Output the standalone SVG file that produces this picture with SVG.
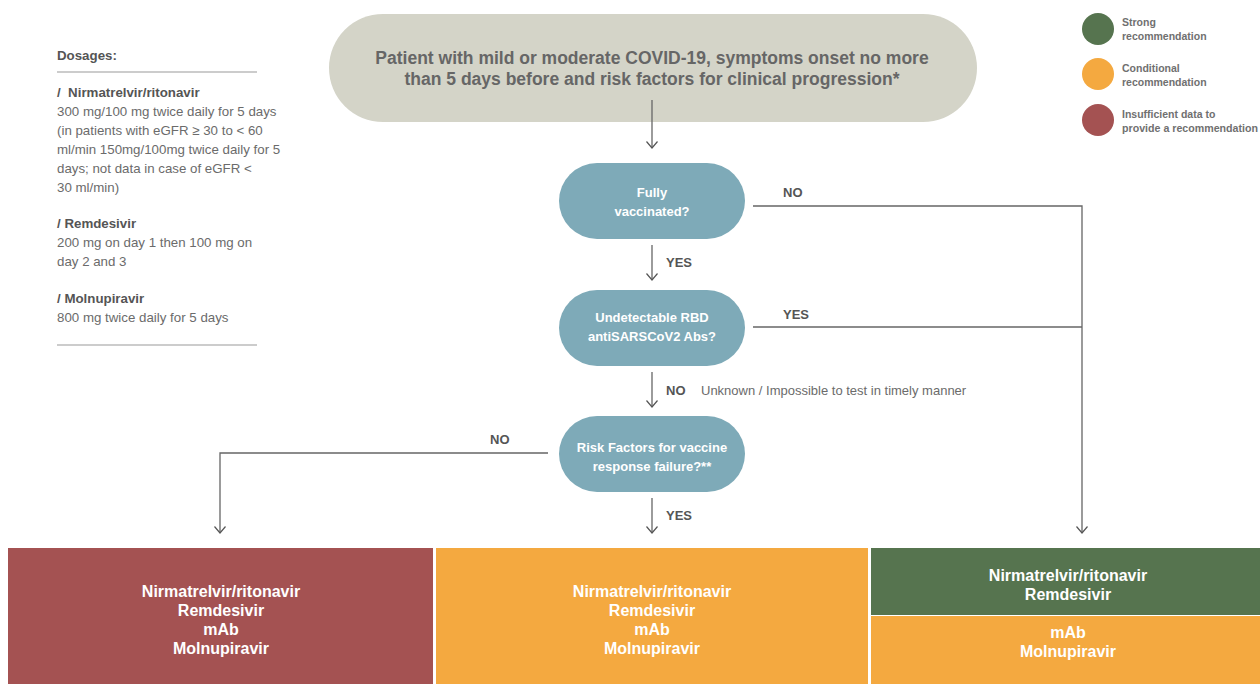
<svg xmlns="http://www.w3.org/2000/svg" width="1260" height="684" viewBox="0 0 1260 684">
<defs>
<marker id="arr" viewBox="0 0 10 12" refX="9.5" refY="6" markerWidth="10" markerHeight="12" markerUnits="userSpaceOnUse" orient="auto">
<path d="M3,0.5 L9.5,6 L3,11.5" fill="none" stroke="#555" stroke-width="1.2"/>
</marker>
<style>
text{font-family:"Liberation Sans",Arial,sans-serif}
.dos{font-size:13.3px;fill:#6b6b6b}
.dosb{font-size:13.3px;fill:#555;font-weight:bold}
.leg{font-size:10.5px;fill:#707070;font-weight:bold}
.q{font-size:13px;fill:#fff;font-weight:bold;text-anchor:middle}
.lbl{font-size:13px;fill:#555;font-weight:bold}
.res{font-size:16px;fill:#fff;font-weight:bold;text-anchor:middle}
.conn{fill:none;stroke:#666;stroke-width:1.3}
</style>
</defs>
<rect width="1260" height="684" fill="#fff"/>

<g id="dosages">
<text class="dosb" x="57" y="60">Dosages:</text>
<line x1="57" y1="72" x2="257" y2="72" stroke="#bbb" stroke-width="1.3"/>
<text class="dosb" x="57" y="97">/ &#160;Nirmatrelvir/ritonavir</text>
<text class="dos" x="57" y="116">300 mg/100 mg twice daily for 5 days</text>
<text class="dos" x="57" y="135">(in patients with eGFR ≥ 30 to &lt; 60</text>
<text class="dos" x="57" y="154">ml/min 150mg/100mg twice daily for 5</text>
<text class="dos" x="57" y="173">days; not data in case of eGFR &lt;</text>
<text class="dos" x="57" y="192">30 ml/min)</text>
<text class="dosb" x="57" y="228">/ Remdesivir</text>
<text class="dos" x="57" y="247">200 mg on day 1 then 100 mg on</text>
<text class="dos" x="57" y="266">day 2 and 3</text>
<text class="dosb" x="57" y="303">/ Molnupiravir</text>
<text class="dos" x="57" y="322">800 mg twice daily for 5 days</text>
<line x1="57" y1="345" x2="257" y2="345" stroke="#bbb" stroke-width="1.3"/>
</g>

<g id="legend">
<circle cx="1098" cy="29" r="16" fill="#56744f"/>
<text class="leg" x="1122" y="26">Strong</text>
<text class="leg" x="1122" y="40">recommendation</text>
<circle cx="1098" cy="74" r="16" fill="#f4a940"/>
<text class="leg" x="1122" y="72">Conditional</text>
<text class="leg" x="1122" y="86">recommendation</text>
<circle cx="1098" cy="120" r="16" fill="#a45252"/>
<text class="leg" x="1122" y="118">Insufficient data to</text>
<text class="leg" x="1122" y="132" textLength="136" lengthAdjust="spacingAndGlyphs">provide a recommendation</text>
</g>

<g id="start">
<rect x="329" y="14" width="648" height="108" rx="54" fill="#d4d4c8"/>
<text x="652" y="64" text-anchor="middle" font-size="17.5" font-weight="bold" fill="#666">Patient with mild or moderate COVID-19, symptoms onset no more</text>
<text x="652" y="85" text-anchor="middle" font-size="17.5" font-weight="bold" fill="#666">than 5 days before and risk factors for clinical progression*</text>
</g>

<g id="q1">
<rect x="559" y="163" width="186" height="76" rx="38" fill="#7eaab8"/>
<text class="q" x="652" y="197">Fully</text>
<text class="q" x="652" y="216">vaccinated?</text>
</g>
<g id="q2">
<rect x="559" y="290" width="186" height="76" rx="38" fill="#7eaab8"/>
<text class="q" x="652" y="322">Undetectable RBD</text>
<text class="q" x="652" y="341">antiSARSCoV2 Abs?</text>
</g>
<g id="q3">
<rect x="559" y="416" width="186" height="76" rx="38" fill="#7eaab8"/>
<text class="q" x="652" y="452">Risk Factors for vaccine</text>
<text class="q" x="652" y="471">response failure?**</text>
</g>

<g id="connectors">
<path class="conn" d="M652,100 V148" marker-end="url(#arr)"/>
<path class="conn" d="M652,245 V280" marker-end="url(#arr)"/>
<path class="conn" d="M652,372 V407" marker-end="url(#arr)"/>
<path class="conn" d="M652,498 V533" marker-end="url(#arr)"/>
<path class="conn" d="M753,206 H1082 V533" marker-end="url(#arr)"/>
<path class="conn" d="M753,327 H1082"/>
<path class="conn" d="M548,453 H220 V533" marker-end="url(#arr)"/>
<text class="lbl" x="666" y="267">YES</text>
<text class="lbl" x="666" y="395">NO</text>
<text x="701" y="395" font-size="13" fill="#6b6b6b">Unknown / Impossible to test in timely manner</text>
<text class="lbl" x="666" y="520">YES</text>
<text class="lbl" x="783" y="197">NO</text>
<text class="lbl" x="783" y="319">YES</text>
<text class="lbl" x="490" y="444">NO</text>
</g>

<g id="res-left">
<rect x="8" y="548" width="425" height="136" fill="#a45252"/>
<text class="res" x="221" y="597">Nirmatrelvir/ritonavir</text>
<text class="res" x="221" y="616">Remdesivir</text>
<text class="res" x="221" y="635">mAb</text>
<text class="res" x="221" y="654">Molnupiravir</text>
</g>
<g id="res-mid">
<rect x="436" y="548" width="432" height="136" fill="#f4a940"/>
<text class="res" x="652" y="597">Nirmatrelvir/ritonavir</text>
<text class="res" x="652" y="616">Remdesivir</text>
<text class="res" x="652" y="635">mAb</text>
<text class="res" x="652" y="654">Molnupiravir</text>
</g>
<g id="res-right">
<rect x="871" y="548" width="389" height="67" fill="#56744f"/>
<rect x="871" y="616" width="389" height="68" fill="#f4a940"/>
<text class="res" x="1068" y="581">Nirmatrelvir/ritonavir</text>
<text class="res" x="1068" y="600">Remdesivir</text>
<text class="res" x="1068" y="638">mAb</text>
<text class="res" x="1068" y="657">Molnupiravir</text>
</g>
</svg>
